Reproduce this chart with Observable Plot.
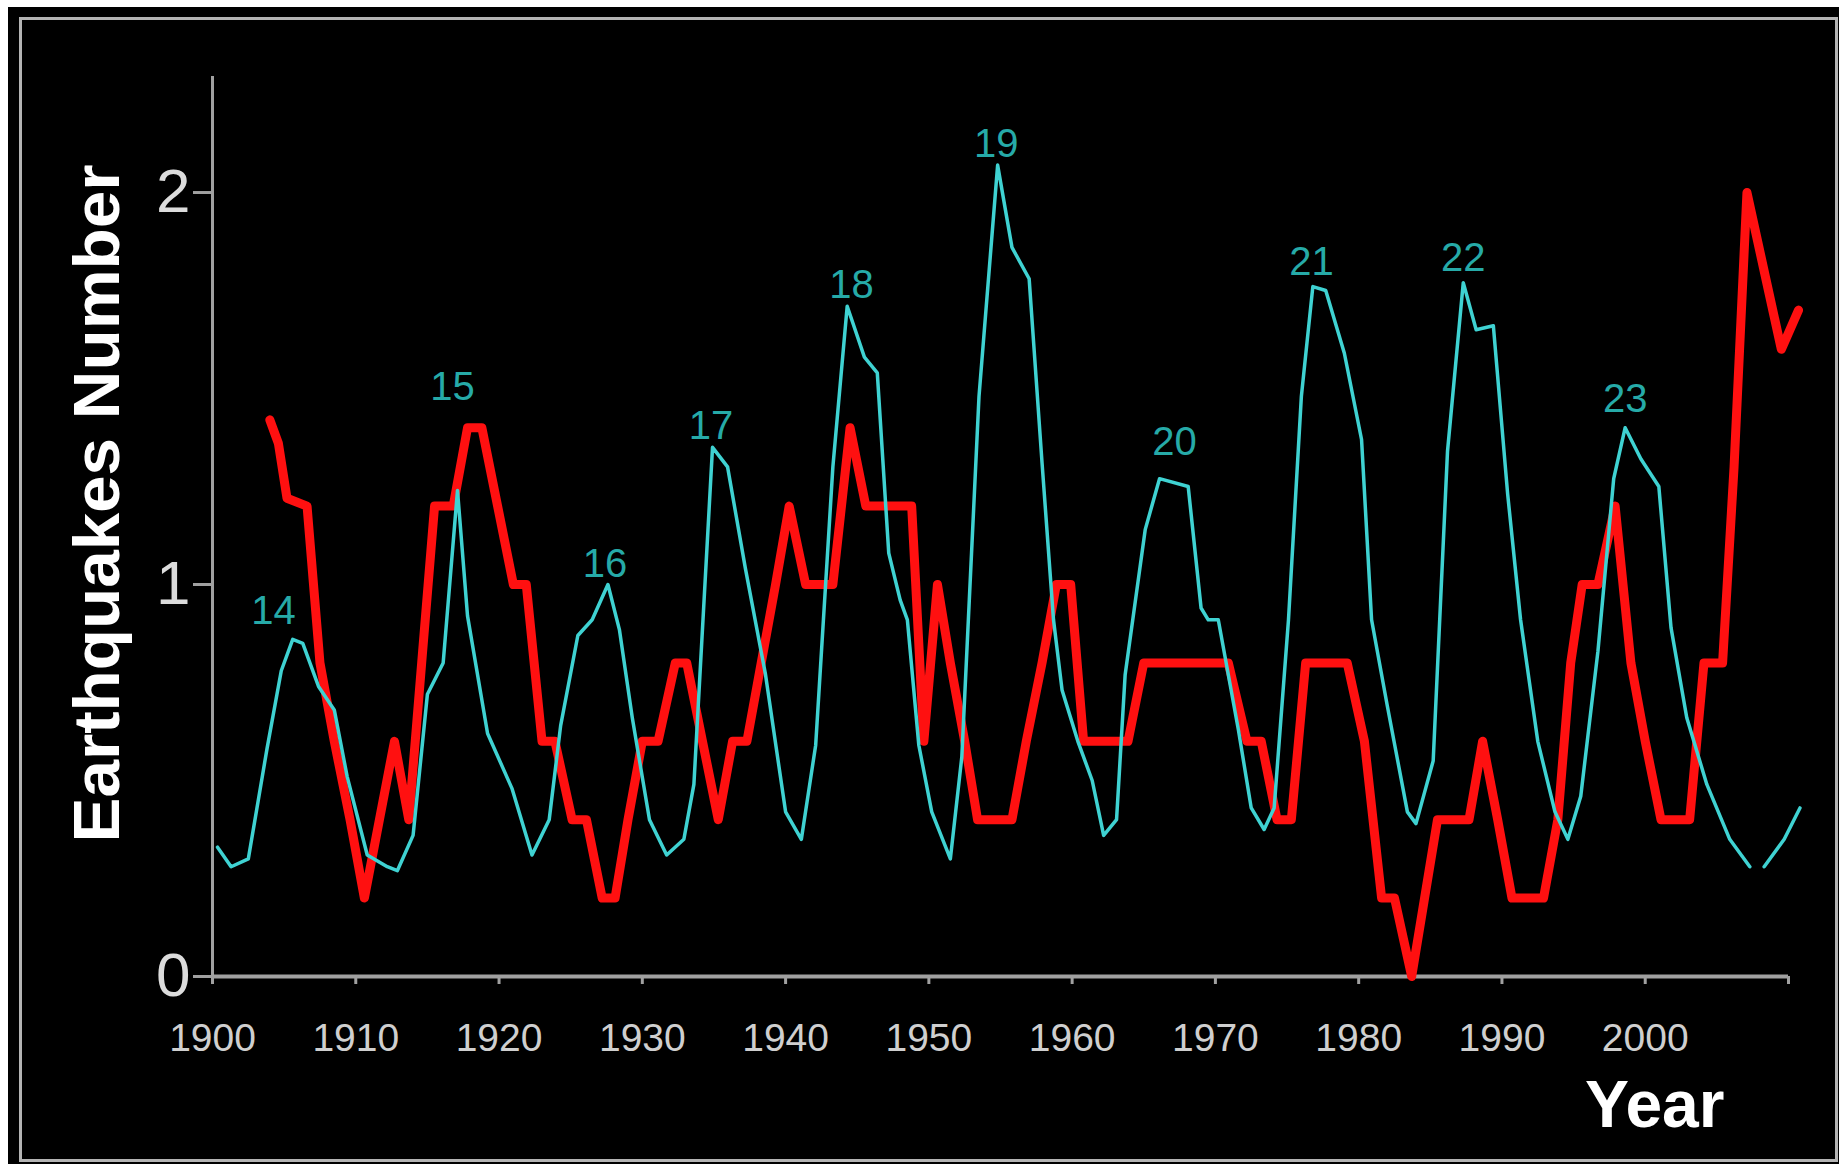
<!DOCTYPE html>
<html>
<head>
<meta charset="utf-8">
<script src="https://cdn.jsdelivr.net/npm/d3@7"></script>
<script src="https://cdn.jsdelivr.net/npm/@observablehq/plot@0.6"></script>
<style>
  html, body { margin: 0; padding: 0; background: #ffffff; width: 1839px; height: 1164px; overflow: hidden; }
  #panel { position: absolute; left: 8px; top: 7px; width: 1831px; height: 1157px; background: #000; }
  #frame { position: absolute; left: 19px; top: 17px; width: 1819px; height: 1145px; box-sizing: border-box; border: 3px solid #b4b4b4; }
  #chart { position: absolute; left: 0; top: 0; }
</style>
</head>
<body>
<div id="panel"></div>
<div id="frame"></div>
<div id="chart"></div>
<script>
// Sunspot (cyan) curve
const sunYears = [1900.35,1901.3,1902.5,1903.8,1904.8,1905.6,1906.3,1907.4,1908.5,1909.4,1910.8,1912.2,1912.9,1914.0,1915.0,1916.1,1917.1,1917.8,1919.2,1920.9,1922.3,1923.5,1924.3,1925.5,1926.5,1927.6,1928.4,1929.3,1930.5,1931.7,1932.9,1933.6,1934.9,1935.95,1937.2,1938.6,1940.0,1941.1,1942.1,1943.3,1944.3,1945.5,1946.4,1947.2,1948.0,1948.5,1949.3,1950.2,1951.5,1952.3,1953.5,1954.8,1955.8,1957.0,1957.9,1958.7,1959.3,1960.4,1961.4,1962.2,1963.1,1963.7,1965.1,1966.1,1968.1,1969.0,1969.5,1970.2,1971.6,1972.5,1973.4,1974.1,1975.1,1976.0,1976.8,1977.7,1979.0,1980.2,1980.9,1982.0,1983.4,1984.0,1985.2,1986.2,1987.3,1988.2,1989.4,1990.4,1991.3,1992.5,1993.7,1994.6,1995.5,1996.7,1997.8,1998.6,1999.7,2000.95,2001.8,2002.9,2004.3,2005.9,2007.3,2007.7,2008.3,2009.7,2010.8];
const sunValues = [0.33,0.28,0.30,0.58,0.78,0.86,0.85,0.74,0.68,0.51,0.31,0.28,0.27,0.36,0.72,0.80,1.24,0.92,0.62,0.48,0.31,0.40,0.64,0.87,0.91,1.00,0.885,0.66,0.40,0.31,0.35,0.49,1.35,1.30,1.04,0.77,0.42,0.35,0.59,1.30,1.71,1.58,1.54,1.08,0.96,0.91,0.59,0.42,0.30,0.56,1.48,2.07,1.86,1.78,1.31,0.91,0.73,0.60,0.50,0.36,0.40,0.77,1.14,1.27,1.25,0.94,0.91,0.91,0.63,0.43,0.375,0.43,0.91,1.48,1.76,1.75,1.59,1.37,0.91,0.69,0.42,0.39,0.55,1.34,1.77,1.65,1.66,1.23,0.91,0.60,0.42,0.35,0.46,0.83,1.27,1.40,1.32,1.25,0.89,0.66,0.49,0.35,0.28,NaN,0.28,0.35,0.43];

// Earthquakes number (red) curve
const quakeYears = [1904.0,1904.6,1905.2,1906.6,1907.5,1908.5,1909.6,1910.6,1912.7,1913.7,1914.6,1915.5,1916.8,1917.8,1918.8,1919.9,1921.0,1921.9,1923.0,1923.9,1925.1,1926.1,1927.2,1928.1,1929.0,1930.0,1931.1,1932.3,1933.1,1934.2,1935.3,1936.3,1937.3,1938.3,1939.3,1940.25,1941.4,1943.3,1944.5,1945.6,1948.8,1949.65,1950.6,1951.5,1952.5,1953.4,1955.8,1956.8,1957.9,1958.9,1959.9,1960.8,1963.9,1965.0,1970.9,1972.2,1973.2,1974.3,1975.3,1976.3,1979.2,1980.4,1981.6,1982.5,1983.7,1984.6,1985.5,1987.7,1988.65,1989.7,1990.7,1992.9,1993.9,1994.8,1995.6,1996.7,1997.9,1999.0,2000.0,2001.1,2003.1,2004.1,2005.4,2006.2,2007.1,2008.3,2009.5,2010.7];
const quakeValues = [1.42,1.36,1.22,1.2,0.8,0.6,0.4,0.2,0.6,0.4,0.8,1.2,1.2,1.4,1.4,1.2,1.0,1.0,0.6,0.6,0.4,0.4,0.2,0.2,0.4,0.6,0.6,0.8,0.8,0.6,0.4,0.6,0.6,0.8,1.0,1.2,1.0,1.0,1.4,1.2,1.2,0.6,1.0,0.8,0.6,0.4,0.4,0.6,0.8,1.0,1.0,0.6,0.6,0.8,0.8,0.6,0.6,0.4,0.4,0.8,0.8,0.6,0.2,0.2,0.0,0.2,0.4,0.4,0.6,0.4,0.2,0.2,0.4,0.8,1.0,1.0,1.2,0.8,0.6,0.4,0.4,0.8,0.8,1.3,2.0,1.8,1.6,1.7];

// Solar cycle labels
const cycleLabels = ["14","15","16","17","18","19","20","21","22","23"];
const cycleYears = [1904.25,1916.75,1927.4,1934.8,1944.6,1954.7,1967.15,1976.7,1987.3,1998.6];
const cycleHeights = [0.90,1.47,1.02,1.37,1.73,2.09,1.33,1.79,1.80,1.44];

const yTicks = [0, 1, 2];
const xTicks = [1900,1910,1920,1930,1940,1950,1960,1970,1980,1990,2000,2010];

const sun = sunYears.map((x, i) => ({x, y: sunValues[i]}));
const quakes = quakeYears.map((x, i) => ({x, y: quakeValues[i]}));
const cycles = cycleLabels.map((t, i) => ({t, x: cycleYears[i], y: cycleHeights[i]}));

const font = "'Liberation Sans', Arial, Helvetica, sans-serif";

const chart = Plot.plot({
  width: 1839,
  height: 1164,
  marginLeft: 212,
  marginRight: 51,
  marginTop: 76,
  marginBottom: 188,
  x: {domain: [1900, 2010]},
  y: {domain: [0, 2.296]},
  style: {background: "transparent", fontFamily: font, overflow: "visible"},
  marks: [
    Plot.ruleX([1900], {stroke: "#a0a0a0", strokeWidth: 3}),
    Plot.ruleY([0], {stroke: "#a0a0a0", strokeWidth: 4}),
    Plot.axisY({ticks: yTicks, tickSize: 19, tickPadding: 3, fontSize: 62, fill: "#dcdcdc", stroke: "#a0a0a0", strokeWidth: 3, strokeOpacity: 1, label: null, tickFormat: d => String(d)}),
    Plot.axisX({ticks: xTicks, tickSize: 8, tickPadding: 39, fontSize: 39, fill: "#cfcfcf", stroke: "#a0a0a0", strokeWidth: 3, strokeOpacity: 1, label: null, tickFormat: d => d === 2010 ? "" : String(d)}),
    Plot.line(quakes, {x: "x", y: "y", stroke: "#ff1010", strokeWidth: 9, strokeLinejoin: "round", strokeLinecap: "round"}),
    Plot.line(sun, {x: "x", y: "y", stroke: "#3fd2d2", strokeWidth: 3.5, strokeLinejoin: "round"}),
    Plot.text(cycles, {x: "x", y: "y", text: "t", fill: "#26aaa8", fontSize: 40, lineAnchor: "bottom", textAnchor: "middle"}),
    Plot.text(["Earthquakes Number"], {frameAnchor: "left", rotate: -90, dx: -94, dy: -23, lineAnchor: "bottom", textAnchor: "middle", fill: "#ffffff", fontSize: 64, fontWeight: "bold"}),
    Plot.text(["Year"], {frameAnchor: "bottom-right", dx: -64, dy: 150, lineAnchor: "bottom", textAnchor: "end", fill: "#ffffff", fontSize: 66, fontWeight: "bold"})
  ]
});
document.getElementById("chart").appendChild(chart);
// condense the vertical axis title to the reference's length
d3.select(chart).selectAll("text").filter(function() { return this.textContent === "Earthquakes Number"; })
  .attr("textLength", 678).attr("lengthAdjust", "spacingAndGlyphs");
</script>
</body>
</html>
